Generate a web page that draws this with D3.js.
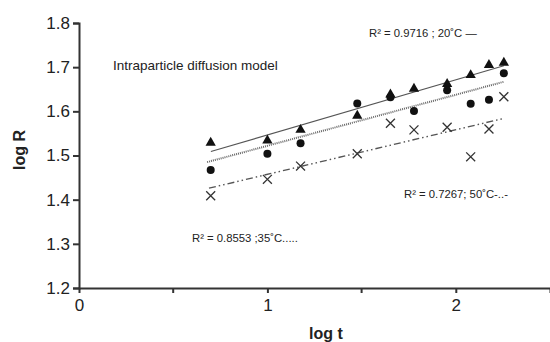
<!DOCTYPE html>
<html lang="en">
<head>
<meta charset="UTF-8">
<title>Intraparticle diffusion model</title>
<script src="https://d3js.org/d3.v7.min.js"></script>
<style>
  body { margin: 0; background: #fff; }
  svg text { font-family: "Liberation Sans", Arial, sans-serif; fill: #222; }
</style>
</head>
<body>
<div id="chart"></div>
<script>
// log t values (5..180 min)
const logT = [0.699, 1.0, 1.176, 1.477, 1.653, 1.778, 1.954, 2.079, 2.176, 2.255];
// log R per temperature
const r20 = [1.529, 1.534, 1.558, 1.590, 1.638, 1.651, 1.662, 1.682, 1.705, 1.710];
const r35 = [1.467, 1.504, 1.528, 1.618, 1.632, 1.601, 1.648, 1.617, 1.626, 1.686];
const r50 = [1.409, 1.446, 1.476, 1.504, 1.573, 1.558, 1.564, 1.497, 1.560, 1.633];
// fitted line end points [x, y]
const fit20 = [[0.70, 1.509], [2.255, 1.703]];
const fit35 = [[0.68, 1.485], [2.255, 1.667]];
const fit50 = [[0.69, 1.426], [2.255, 1.584]];
const yTicks = [1.2, 1.3, 1.4, 1.5, 1.6, 1.7, 1.8];
const xTicks = [0, 1, 2];
const xMinor = [0.5, 1.5];

const width = 550, height = 342;
const margin = {top: 23, right: 0, bottom: 54, left: 79};

const svg = d3.select("#chart").append("svg")
    .attr("width", width)
    .attr("height", height);

const x = d3.scaleLinear().domain([0, 2.5]).range([margin.left, width - margin.right]);
const y = d3.scaleLinear().domain([1.2, 1.8]).range([height - margin.bottom, margin.top]);

// axes
const xAxis = svg.append("g")
    .attr("transform", "translate(0," + y(1.2) + ")")
    .call(d3.axisBottom(x).tickValues(xTicks).tickFormat(d3.format("d")).tickSizeOuter(0).tickSize(5).tickPadding(6));
xAxis.selectAll(".tick").filter(d => d === 0).select("line").remove();
xAxis.selectAll(".tick.minor").data(xMinor).enter().append("line")
    .attr("x1", d => x(d)).attr("x2", d => x(d))
    .attr("y1", 0).attr("y2", 5);

const yAxis = svg.append("g")
    .attr("transform", "translate(" + x(0) + ",0)")
    .call(d3.axisLeft(y).tickValues(yTicks).tickFormat(d3.format(".1f")).tickSizeOuter(0).tickSize(6).tickPadding(3));

svg.selectAll(".domain, .tick line, line").attr("stroke", "#333").attr("stroke-width", 2);
xAxis.selectAll("line").attr("stroke", "#333").attr("stroke-width", 2);
svg.selectAll(".tick text").attr("font-size", 17).attr("fill", "#222")
    .style("font-family", "'Liberation Sans', Arial, sans-serif");

// axis titles
svg.append("text")
    .attr("x", 326).attr("y", 339)
    .attr("text-anchor", "middle")
    .attr("font-size", 16).attr("font-weight", "bold")
    .text("log t");
svg.append("text")
    .attr("transform", "translate(25,150) rotate(-90)")
    .attr("text-anchor", "middle")
    .attr("font-size", 16).attr("font-weight", "bold")
    .text("log R");

// fitted lines
const line = d3.line().x(d => x(d[0])).y(d => y(d[1]));
svg.append("path").datum(fit20).attr("d", line)
    .attr("fill", "none").attr("stroke", "#555").attr("stroke-width", 1.1);
svg.append("path").datum(fit35).attr("d", line)
    .attr("fill", "none").attr("stroke", "#666").attr("stroke-width", 2)
    .attr("stroke-dasharray", "1,1");
svg.append("path").datum(fit50).attr("d", line)
    .attr("fill", "none").attr("stroke", "#555").attr("stroke-width", 1.4)
    .attr("stroke-dasharray", "7,3,1.5,3,1.5,3");

// markers
const tri = d3.symbol().type(d3.symbolTriangle).size(46);
svg.append("g").selectAll("path").data(logT).enter().append("path")
    .attr("d", tri)
    .attr("transform", (d, i) => "translate(" + x(d) + "," + y(r20[i]) + ")")
    .attr("fill", "#111");

svg.append("g").selectAll("circle").data(logT).enter().append("circle")
    .attr("cx", d => x(d)).attr("cy", (d, i) => y(r35[i]))
    .attr("r", 4).attr("fill", "#111");

const cross = d3.symbol().type(d3.symbolX).size(54);
svg.append("g").selectAll("path").data(logT).enter().append("path")
    .attr("d", cross)
    .attr("transform", (d, i) => "translate(" + x(d) + "," + y(r50[i]) + ")")
    .attr("fill", "none").attr("stroke", "#333").attr("stroke-width", 1.3);

// annotations
svg.append("text").attr("x", 113).attr("y", 70).attr("font-size", 13.5)
    .text("Intraparticle diffusion model");
svg.append("text").attr("x", 369).attr("y", 37).attr("font-size", 11.3)
    .text("R² = 0.9716 ; 20˚C —");
svg.append("text").attr("x", 404).attr("y", 198).attr("font-size", 11.3)
    .text("R² = 0.7267; 50˚C-..-");
svg.append("text").attr("x", 192).attr("y", 242).attr("font-size", 11.3)
    .text("R² = 0.8553 ;35˚C.....");
</script>
</body>
</html>
